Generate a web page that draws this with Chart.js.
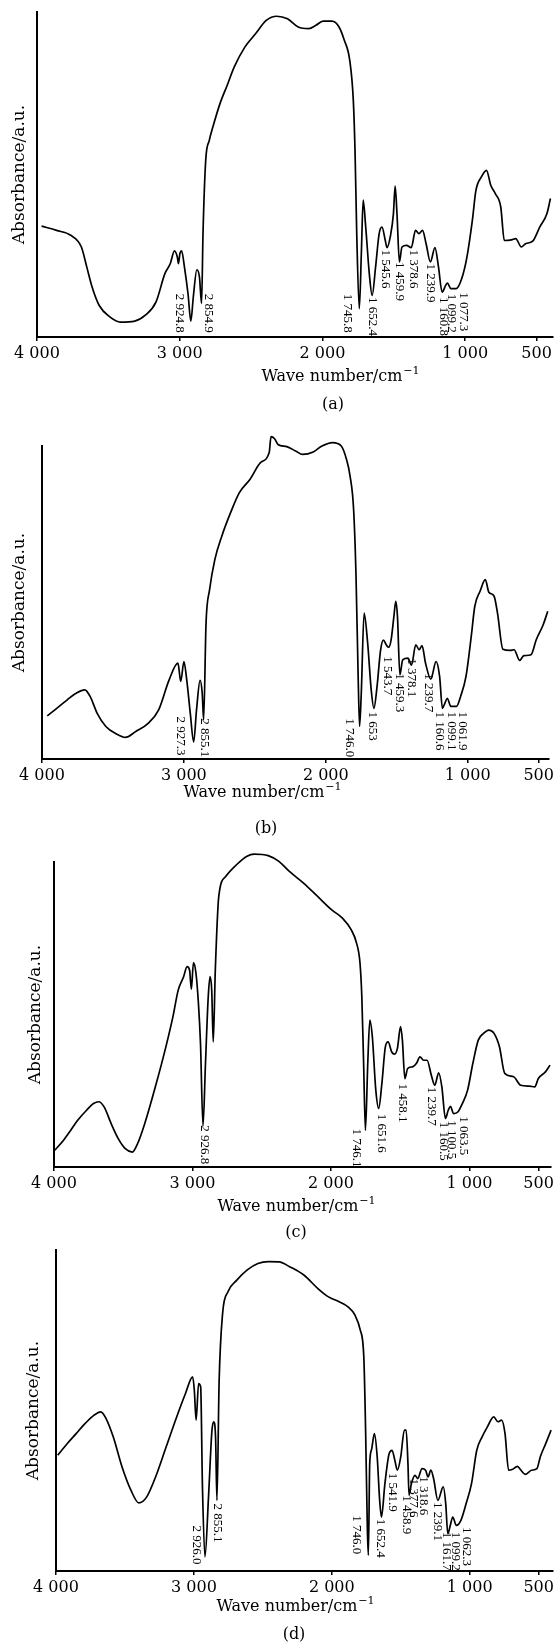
<!DOCTYPE html>
<html>
<head>
<meta charset="utf-8">
<script src="https://cdn.jsdelivr.net/npm/chart.js@4.4.1/dist/chart.umd.min.js"></script>
<style>
  body { margin: 0; background: #fff; }
  #wrap { position: relative; width: 557px; height: 1643px; }
  canvas { position: absolute; left: 0; }
</style>
</head>
<body>
<div id="wrap">
  <canvas id="cA" width="557" height="420" style="top:0px"></canvas>
  <canvas id="cB" width="557" height="420" style="top:420px"></canvas>
  <canvas id="cC" width="557" height="405" style="top:840px"></canvas>
  <canvas id="cD" width="557" height="398" style="top:1245px"></canvas>
</div>
<script>
// x axis ticks (wave number, cm-1)
const xTicks = [4000, 3000, 2000, 1000, 500];

// (a)
const waveA = [3968,3863,3764,3689,3651,3614,3564,3490,3415,3315,3241,3166,3104,3066,3037,3017,3009,2999,2987,2967,2942,2922,2905,2880,2862,2847,2837,2818,2793,2768,2718,2668,2618,2544,2469,2394,2320,2245,2170,2096,2046,1996,1934,1884,1847,1809,1784,1772,1760,1742,1727,1715,1697,1672,1652,1628,1603,1583,1560,1548,1523,1503,1491,1478,1461,1443,1411,1378,1348,1324,1299,1274,1244,1212,1187,1162,1137,1125,1100,1063,1025,988,950,925,888,851,821,789,751,726,676,646,607,577,527,478,428,403];
const absA = [34.1,32.8,31.3,27.7,21.5,15.4,9.7,6.2,4.6,4.9,6.7,10.8,19.5,22.6,26.5,24.6,22.6,25.6,26.5,21.5,13.3,4.9,12.3,20.7,18.5,10.3,31.8,54.4,60.5,64.6,71.8,77.4,83.1,89.2,93.3,97.4,98.7,97.9,95.4,94.9,95.9,97.2,97.2,95.4,91.3,85.1,72.8,57.4,31.8,8.7,26.7,42.1,33.8,19.5,12.8,21.5,31.8,33.8,29.7,27.5,31.3,37.9,46.4,37.9,23.1,27.7,28.2,27.5,32.8,31.8,32.8,28.7,23.1,27.5,21.5,13.8,15.9,16.6,14.9,14.9,17.9,24.6,35.9,45.1,49.2,51.3,46.7,44.1,40.0,29.7,29.9,30.3,27.7,28.7,29.5,33.8,37.9,42.6];
const peakTextA = ['2 924.8','2 854.9','1 745.8','1 652.4','1 545.6','1 459.9','1 378.6','1 239.9','1 160.8','1 099.2','1 077.3'];
const peakWaveA = [3004,2798,1822,1647,1560,1461,1361,1244,1155,1095,1013];
const peakTopA  = [13.3,13.3,13.3,12.3,26.9,23.1,26.9,22.6,12.3,13.3,13.8];

// (b)
const waveB = [3963,3896,3822,3760,3698,3661,3611,3550,3475,3413,3339,3252,3178,3104,3042,3022,3000,2980,2955,2931,2911,2886,2871,2861,2844,2819,2782,2733,2671,2609,2535,2460,2399,2386,2361,2337,2275,2213,2163,2089,2027,1953,1891,1854,1829,1804,1787,1772,1762,1750,1730,1705,1680,1661,1639,1614,1594,1574,1557,1540,1520,1507,1495,1478,1458,1421,1396,1366,1342,1322,1297,1260,1223,1198,1178,1161,1144,1119,1079,1050,1012,975,950,913,876,851,814,790,752,703,673,634,604,554,517,468,436];
const absB = [13.8,16.2,18.9,21.0,22.1,20.0,14.6,10.4,8.0,6.9,8.8,11.4,15.7,25.3,30.6,24.8,31.1,25.3,14.6,5.5,15.7,25.1,21.0,12.5,43.4,54.1,63.7,71.2,78.7,85.1,89.3,94.7,97.9,103.0,102.3,100.5,99.8,98.4,97.3,98.1,100.0,101.1,100.0,95.7,90.4,79.7,58.4,26.4,10.4,21.0,46.6,37.0,22.1,16.2,23.1,34.8,38.0,36.5,35.7,38.0,45.6,50.4,45.6,26.9,31.7,32.2,30.0,36.5,34.9,36.2,30.6,25.5,31.1,26.4,16.2,17.8,19.4,16.8,16.8,20.0,26.4,39.2,48.8,53.6,57.3,53.3,52.0,46.6,35.1,34.7,34.9,31.5,33.0,33.3,38.1,42.9,47.2];
const peakTextB = ['2 927.3','2 855.1','1 746.0','1 653','1 543.7','1 459.3','1 378.1','1 239.7','1 160.6','1 099.1','1 061.9'];
const peakWaveB = [3022,2856,1834,1668,1569,1483,1396,1277,1198,1116,1037];
const peakTopB  = [13.6,13.0,13.0,15.2,32.8,27.4,32.2,27.4,15.2,15.2,15.2];

// (c)
const waveC = [3995,3931,3880,3829,3765,3715,3676,3638,3587,3536,3485,3434,3396,3345,3268,3192,3141,3103,3064,3039,3021,3008,2993,2975,2957,2942,2924,2906,2886,2873,2861,2850,2835,2810,2759,2682,2606,2555,2453,2376,2300,2198,2096,1994,1917,1854,1815,1790,1777,1764,1751,1734,1719,1701,1676,1655,1632,1607,1587,1561,1540,1520,1497,1484,1466,1446,1408,1382,1357,1331,1306,1275,1250,1222,1199,1173,1153,1137,1114,1082,1051,1013,975,936,898,860,822,783,745,681,630,566,528,502,451,418];
const absC = [5.5,8.8,12.0,15.3,18.6,20.8,21.4,19.7,14.2,9.3,6.0,4.9,7.7,14.2,26.3,39.4,49.3,58.0,62.4,65.7,64.6,58.3,67.0,63.6,53.7,40.5,13.5,34.0,55.9,62.4,58.0,41.0,64.6,88.7,95.3,99.1,101.9,102.6,102.1,100.2,96.9,93.1,88.7,84.3,81.6,77.8,73.4,66.8,55.9,34.0,12.0,34.0,48.2,42.7,25.2,19.2,27.4,39.4,41.0,37.7,37.0,38.9,46.0,41.6,29.0,32.3,32.9,34.0,36.1,35.0,35.0,30.1,26.8,30.9,26.3,15.9,18.6,19.9,17.5,18.1,20.8,25.2,34.0,41.6,43.8,44.9,43.8,39.4,30.7,29.6,26.8,26.5,26.3,29.0,31.2,33.4];
const peakTextC = ['2 926.8','1 746.1','1 651.6','1 458.1','1 239.7','1 160.5','1 100.5','1 063.5'];
const peakWaveC = [2917,1815,1637,1484,1275,1191,1127,1043];
const peakTopC  = [13.7,12.6,17.5,27.4,26.3,14.8,15.3,16.6];

// (d)
const waveD = [3987,3918,3854,3790,3726,3675,3637,3585,3521,3457,3399,3342,3278,3201,3125,3061,3009,2997,2984,2966,2951,2938,2920,2894,2869,2856,2843,2833,2817,2792,2753,2689,2613,2536,2459,2382,2306,2203,2101,2024,1947,1883,1832,1794,1768,1755,1742,1735,1725,1712,1691,1671,1653,1640,1615,1584,1563,1543,1525,1500,1474,1461,1448,1440,1423,1397,1377,1346,1320,1302,1282,1262,1231,1192,1174,1159,1141,1123,1097,1064,1026,987,949,910,872,826,795,769,744,718,693,654,629,598,552,513,488,449,410];
const absD = [36.1,39.7,42.8,45.9,48.5,49.6,47.5,41.8,32.4,25.2,21.2,23.1,29.3,38.7,48.0,55.3,60.5,56.3,47.0,58.4,57.4,26.2,4.4,23.1,43.9,46.5,41.8,22.0,59.3,80.2,87.0,90.6,93.8,95.8,96.4,96.3,94.8,92.2,88.0,85.4,83.9,82.3,79.7,75.1,66.7,43.9,12.7,4.9,33.6,37.8,42.8,35.6,22.0,16.8,27.2,36.6,37.6,34.5,31.4,35.6,43.9,43.9,33.6,23.6,27.2,29.8,28.8,31.9,31.4,29.3,31.4,28.8,22.0,26.2,21.0,11.6,14.2,16.8,14.2,15.8,21.0,27.2,37.6,41.8,44.9,48.0,46.5,47.0,42.8,31.4,31.6,32.6,31.4,30.1,31.4,31.9,35.6,39.7,43.9];
const peakTextD = ['2 926.0','2 855.1','1 746.0','1 652.4','1 541.9','1 458.9','1 377.6','1 318.6','1 239.1','1 161.7','1 099.2','1 062.3'];
const peakWaveD = [2984,2830,1819,1645,1563,1461,1410,1338,1231,1167,1103,1021];
const peakTopD  = [14.2,21.0,17.4,16.3,30.6,23.6,28.8,29.5,21.5,12.2,12.2,13.7];

const INK = '#000';
const SERIF = '"DejaVu Serif", "Liberation Serif", serif';

function fmtWave(v) {
  if (v >= 1000) return Math.floor(v / 1000) + ' ' + String(v % 1000).padStart(3, '0');
  return String(v);
}

// captions under the x axis and the rotated peak labels
const figText = {
  id: 'figText',
  afterDatasetsDraw(chart, args, opts) {
    const ctx = chart.ctx;
    const xs = chart.scales.x, ys = chart.scales.y;
    ctx.save();
    ctx.fillStyle = INK;
    ctx.font = '13px "Liberation Serif", serif';
    ctx.textAlign = 'left';
    ctx.textBaseline = 'middle';
    opts.peakText.forEach((t, i) => {
      ctx.save();
      ctx.translate(xs.getPixelForValue(opts.peakWave[i]), ys.getPixelForValue(opts.peakTop[i]));
      ctx.rotate(Math.PI / 2);
      ctx.fillText(t, 0, 0);
      ctx.restore();
    });

    // x title with superscript
    const main = 'Wave number/cm', sup = '\u22121';
    ctx.font = '16px ' + SERIF;
    const w1 = ctx.measureText(main).width;
    ctx.font = '11px ' + SERIF;
    const w2 = ctx.measureText(sup).width;
    let x0 = opts.title[0] - (w1 + w2) / 2;
    ctx.textAlign = 'left';
    ctx.font = '16px ' + SERIF;
    ctx.fillText(main, x0, opts.title[1]);
    ctx.font = '11px ' + SERIF;
    ctx.fillText(sup, x0 + w1 + 1, opts.title[1] - 6);

    ctx.font = '16px ' + SERIF;
    ctx.textAlign = 'center';
    ctx.fillText(opts.letter, opts.letterPos[0], opts.letterPos[1]);
    ctx.restore();
  }
};

function makePanel(canvasId, wave, abs, peaks, lay) {
  const h = document.getElementById(canvasId).height;
  new Chart(document.getElementById(canvasId), {
    type: 'line',
    data: {
      datasets: [{
        data: wave.map((w, i) => ({ x: w, y: abs[i] })),
        borderColor: INK,
        borderWidth: 1.7,
        pointRadius: 0,
        cubicInterpolationMode: 'monotone',
        clip: false
      }]
    },
    options: {
      responsive: false,
      animation: false,
      devicePixelRatio: 1,
      layout: { padding: { top: lay.plotTop, right: 557 - lay.right, left: 0, bottom: 0 } },
      plugins: {
        legend: { display: false },
        tooltip: { enabled: false },
        figText: {
          peakText: peaks[0], peakWave: peaks[1], peakTop: peaks[2],
          title: lay.title, letter: lay.letter, letterPos: lay.letterPos
        }
      },
      scales: {
        x: {
          type: 'linear',
          reverse: true,
          min: lay.xmin,
          max: 4000,
          afterBuildTicks: s => { s.ticks = xTicks.map(v => ({ value: v })); },
          afterFit: s => { s.height = h - lay.plotBottom; },
          ticks: {
            callback: v => fmtWave(v),
            autoSkip: false,
            maxRotation: 0,
            padding: 3,
            color: INK,
            font: { family: SERIF, size: 16 }
          },
          grid: { drawOnChartArea: false, tickLength: 4, color: INK, lineWidth: 1.5 },
          border: { color: INK, width: 2 }
        },
        y: {
          min: 0,
          max: 100,
          afterFit: s => { s.width = lay.left; },
          ticks: { display: false },
          grid: { drawOnChartArea: false, drawTicks: false },
          border: { color: INK, width: 2 },
          title: {
            display: true,
            text: 'Absorbance/a.u.',
            color: INK,
            font: { family: SERIF, size: 17 },
            padding: { top: lay.yPad, bottom: 0 }
          }
        }
      }
    },
    plugins: [figText]
  });
}

makePanel('cA', waveA, absA, [peakTextA, peakWaveA, peakTopA],
  { left: 37, right: 553, plotTop: 12, plotBottom: 337, xmin: 385, yPad: 9, title: [340, 377], letter: '(a)', letterPos: [333, 405] });
makePanel('cB', waveB, absB, [peakTextB, peakWaveB, peakTopB],
  { left: 42, right: 553, plotTop: 26, plotBottom: 339, xmin: 431, yPad: 9, title: [262, 373], letter: '(b)', letterPos: [266, 409] });
makePanel('cC', waveC, absC, [peakTextC, peakWaveC, peakTopC],
  { left: 54, right: 553, plotTop: 22, plotBottom: 327, xmin: 416, yPad: 25, title: [296, 367], letter: '(c)', letterPos: [296, 393] });
makePanel('cD', waveD, absD, [peakTextD, peakWaveD, peakTopD],
  { left: 56, right: 555, plotTop: 5, plotBottom: 326, xmin: 395, yPad: 23, title: [295, 362], letter: '(d)', letterPos: [294, 390] });
</script>
</body>
</html>
